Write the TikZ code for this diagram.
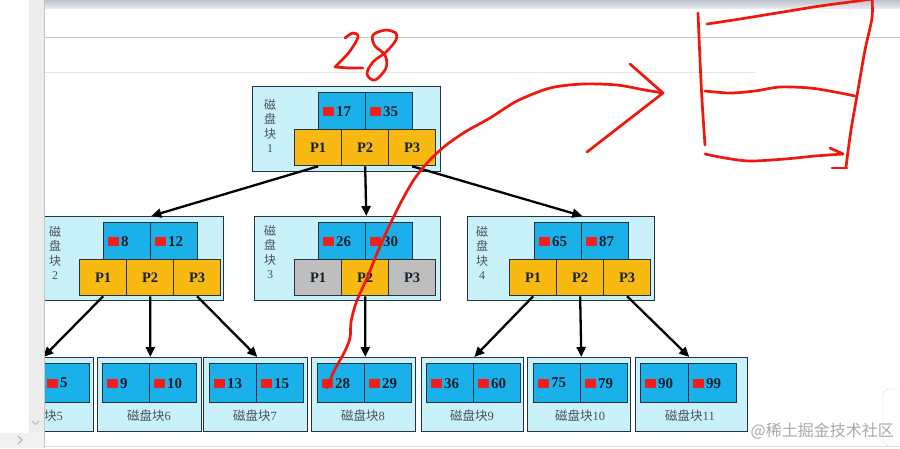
\documentclass[tikz,border=0pt]{standalone}
\usepackage{fontspec}
\setmainfont{Liberation Serif}
\newfontfamily\cjk{Noto Sans CJK SC}
\usetikzlibrary{arrows.meta,calc}
\definecolor{outerc}{HTML}{C9F1FA}
\definecolor{keyc}{HTML}{1AB0EA}
\definecolor{ptrc}{HTML}{F8BA12}
\definecolor{greyc}{HTML}{BEBEBE}
\definecolor{bord}{HTML}{26323E}
\definecolor{sqred}{HTML}{F21E1E}
\definecolor{txtc}{HTML}{14202C}
\definecolor{labc}{HTML}{4A525A}
\definecolor{annred}{HTML}{F0180E}
\definecolor{stripc}{HTML}{EDEDED}
\definecolor{stripline}{HTML}{C4C4C4}
\definecolor{topA}{HTML}{BCC3CC}
\definecolor{topB}{HTML}{E6E9ED}
\definecolor{lineA}{HTML}{C8C8C8}
\definecolor{lineB}{HTML}{ECE6D6}
\definecolor{wmc}{HTML}{A9A9A9}
\tikzset{
  outerbox/.style={draw=bord, fill=outerc, line width=1.3pt, anchor=north west, inner sep=0},
  keybox/.style={draw=bord, fill=keyc, line width=1.3pt, anchor=north west, inner sep=0, minimum height=37pt, minimum width=47pt},
  leafkey/.style={keybox, minimum height=39pt},
  ptrbox/.style={draw=bord, fill=ptrc, line width=1.3pt, anchor=north west, inner sep=0, minimum width=47pt, minimum height=36pt, font=\fontsize{14.5}{14.5}\selectfont\bfseries, text=txtc},
  greyptr/.style={ptrbox, fill=greyc},
  redsq/.style={fill=sqred, anchor=west, minimum width=11pt, minimum height=9pt, inner sep=0},
  numtxt/.style={anchor=west, inner sep=0.5pt, font=\fontsize{15}{15}\selectfont\bfseries, text=txtc},
  vlabel/.style={align=center, font=\fontsize{12}{14.5}\selectfont, text=labc, inner sep=0},
  leaflabel/.style={font=\fontsize{12.5}{12.5}\selectfont, text=labc, inner sep=0},
  tarrow/.style={line width=2.3pt, draw=black, -{Triangle[length=10pt,width=9pt]}},
  annot/.style={draw=annred, line width=2.7pt, line cap=round, line join=round},
}
\newcommand\keycell[5]{%
  \node[#4] (#1) at (#2,#3) {};
  \node[redsq] (#1s) at ([xshift=5pt]#1.west) {};
  \node[numtxt] (#1n) at ([xshift=1pt]#1s.east) {#5};}
\begin{document}
\begin{tikzpicture}[x=1pt,y=-1pt]
\useasboundingbox (0,0) rectangle (900,448);
\clip (0,0) rectangle (900,448);
\fill[white] (0,0) rectangle (900,448);
% window chrome
\shade[top color=topA, bottom color=topB] (44,0) rectangle (900,8);
\draw[lineA, line width=1pt] (44,37) -- (900,37);
\draw[lineB, line width=1pt] (44,72) -- (755,72);
\draw[lineA!60, line width=0.8pt] (44,446.5) -- (900,446.5);

% ---------- root block ----------
\node[outerbox, minimum width=188pt, minimum height=85pt] (r1) at (252,86) {};
\keycell{r1k1}{318}{92}{keybox}{17}
\keycell{r1k2}{365}{92}{keybox}{35}
\node[ptrbox] (r1p1) at (294,129) {P1};
\node[ptrbox] (r1p2) at (341,129) {P2};
\node[ptrbox] (r1p3) at (388,129) {P3};
\node[vlabel] (r1l) at (270,126) {{\cjk 磁}\\{\cjk 盘}\\{\cjk 块}\\1};

% ---------- block 2 ----------
\node[outerbox, minimum width=186pt, minimum height=84pt] (b2) at (37,216) {};
\keycell{b2k1}{103}{222}{keybox}{8}
\keycell{b2k2}{150}{222}{keybox}{12}
\node[ptrbox] (b2p1) at (79,259) {P1};
\node[ptrbox] (b2p2) at (126,259) {P2};
\node[ptrbox] (b2p3) at (173,259) {P3};
\node[vlabel] (b2l) at (55,253) {{\cjk 磁}\\{\cjk 盘}\\{\cjk 块}\\2};

% ---------- block 3 ----------
\node[outerbox, minimum width=186pt, minimum height=84pt] (b3) at (254,216) {};
\keycell{b3k1}{318}{222}{keybox}{26}
\keycell{b3k2}{365}{222}{keybox}{30}
\node[greyptr] (b3p1) at (294,259) {P1};
\node[ptrbox] (b3p2) at (341,259) {P2};
\node[greyptr] (b3p3) at (388,259) {P3};
\node[vlabel] (b3l) at (270,252) {{\cjk 磁}\\{\cjk 盘}\\{\cjk 块}\\3};

% ---------- block 4 ----------
\node[outerbox, minimum width=187pt, minimum height=84pt] (b4) at (467,216) {};
\keycell{b4k1}{534}{222}{keybox}{65}
\keycell{b4k2}{581}{222}{keybox}{87}
\node[ptrbox] (b4p1) at (509,259) {P1};
\node[ptrbox] (b4p2) at (556,259) {P2};
\node[ptrbox] (b4p3) at (603,259) {P3};
\node[vlabel] (b4l) at (482,253) {{\cjk 磁}\\{\cjk 盘}\\{\cjk 块}\\4};

% ---------- leaves ----------
\node[outerbox, minimum width=104pt, minimum height=74pt] (l5) at (-11,357) {};
\node[leafkey] (l5k1) at (-5,363) {};
\keycell{l5k2}{42}{363}{leafkey}{5}
\node[leaflabel] (l5l) at (41,416) {{\cjk 磁盘块}5};

\node[outerbox, minimum width=104pt, minimum height=74pt] (l6) at (97,357) {};
\keycell{l6k1}{102}{363}{leafkey}{9}
\keycell{l6k2}{149}{363}{leafkey}{10}
\node[leaflabel] (l6l) at (149,416) {{\cjk 磁盘块}6};

\node[outerbox, minimum width=104pt, minimum height=74pt] (l7) at (203,357) {};
\keycell{l7k1}{209}{363}{leafkey}{13}
\keycell{l7k2}{256}{363}{leafkey}{15}
\node[leaflabel] (l7l) at (255,416) {{\cjk 磁盘块}7};

\node[outerbox, minimum width=104pt, minimum height=74pt] (l8) at (311,357) {};
\keycell{l8k1}{317}{363}{leafkey}{28}
\keycell{l8k2}{364}{363}{leafkey}{29}
\node[leaflabel] (l8l) at (363,416) {{\cjk 磁盘块}8};

\node[outerbox, minimum width=102pt, minimum height=74pt] (l9) at (421,357) {};
\keycell{l9k1}{426}{363}{leafkey}{36}
\keycell{l9k2}{473}{363}{leafkey}{60}
\node[leaflabel] (l9l) at (472,416) {{\cjk 磁盘块}9};

\node[outerbox, minimum width=103pt, minimum height=74pt] (l10) at (527,357) {};
\keycell{l10k1}{533}{363}{leafkey}{75}
\keycell{l10k2}{580}{363}{leafkey}{79}
\node[leaflabel] (l10l) at (580,416) {{\cjk 磁盘块}10};

\node[outerbox, minimum width=112pt, minimum height=74pt] (l11) at (635,357) {};
\keycell{l11k1}{640}{363}{leafkey, minimum width=48pt}{90}
\keycell{l11k2}{688}{363}{leafkey, minimum width=48pt}{99}
\node[leaflabel] (l11l) at (690,416) {{\cjk 磁盘块}11};

% ---------- tree arrows ----------
\draw[tarrow] (r1p1.south) -- (b2k1.east |- b2.north);
\draw[tarrow] (r1p2.south) -- (b3k1.east |- b3.north);
\draw[tarrow] (r1p3.south) -- (b4k1.east |- b4.north);
\draw[tarrow] (b2p1.south) -- (l5k1.east |- l5.north);
\draw[tarrow] (b2p2.south) -- (l6k1.east |- l6.north);
\draw[tarrow] (b2p3.south) -- (l7k1.east |- l7.north);
\draw[tarrow] (b3p2.south) -- (l8k1.east |- l8.north);
\draw[tarrow] (b4p1.south) -- (l9k1.east |- l9.north);
\draw[tarrow] (b4p2.south) -- (l10k1.east |- l10.north);
\draw[tarrow] (b4p3.south) -- (l11k1.east |- l11.north);

% ---------- left strip overlay ----------
\fill[white] (0,0) rectangle (29,448);
\fill[stripc] (29,0) rectangle (44,448);
\fill[stripc!80] (0,433) rectangle (44,448);
\draw[stripline, line width=1.4pt] (44.5,0) -- (44.5,448);
\draw[gray!70, line width=0.8pt] (18,436) -- (22,440) -- (18,444);
\draw[gray!60, line width=0.8pt] (32,421) -- (35.5,424.5) -- (39,421);

% right-edge UI card
\draw[gray!30, fill=white, rounded corners=6pt] (883,389) rectangle (912,446);

% ---------- red annotations ----------
% "28"
\draw[annot] plot[smooth, tension=0.6] coordinates {(345,38) (353,33) (358,37) (350,51) (341,61) (335,67)} -- (349,68) -- (363,68);
\draw[annot] plot[smooth, tension=0.6] coordinates {(396,33) (386,30) (373,35) (375,46) (385,55) (386,68) (375,80) (367,74) (373,62) (386,52) (396,40) (396,33)};
% search curve with arrow
\draw[annot] plot[smooth, tension=0.5] coordinates {(327,388) (334,371) (344,353) (350,338) (351,322) (356,303) (367,278) (381,244) (397,210) (413,181) (428,162) (445,146) (465,132) (490,118) (517,101) (550,88) (583,84) (617,85) (645,90) (663,93)};
\draw[annot] (630,64) -- (663,93) -- (587,152);
% bucket
\draw[annot] plot[smooth] coordinates {(698,13) (700,60) (702,100) (705,145)};
\draw[annot] plot[smooth] coordinates {(707,24) (740,19) (783,12) (820,6) (850,2) (872,-1)};
\draw[annot] plot[smooth] coordinates {(872,-2) (872,18) (865,50) (858,90) (851,130) (846,167)};
\draw[annot] plot[smooth] coordinates {(705,91) (730,93) (755,91) (780,87) (810,88) (835,92) (855,96)};
\draw[annot] plot[smooth] coordinates {(705,154) (725,158) (750,161) (785,159) (815,156) (843,154)};
\draw[annot] (830,148) -- (843,154);
\draw[annot] (832,168) -- (847,168);

% watermark
\node[anchor=east, text=wmc, font=\fontsize{16}{16}\selectfont\cjk, inner sep=0] (wm) at (894,431) {@稀土掘金技术社区};
\end{tikzpicture}
\end{document}
